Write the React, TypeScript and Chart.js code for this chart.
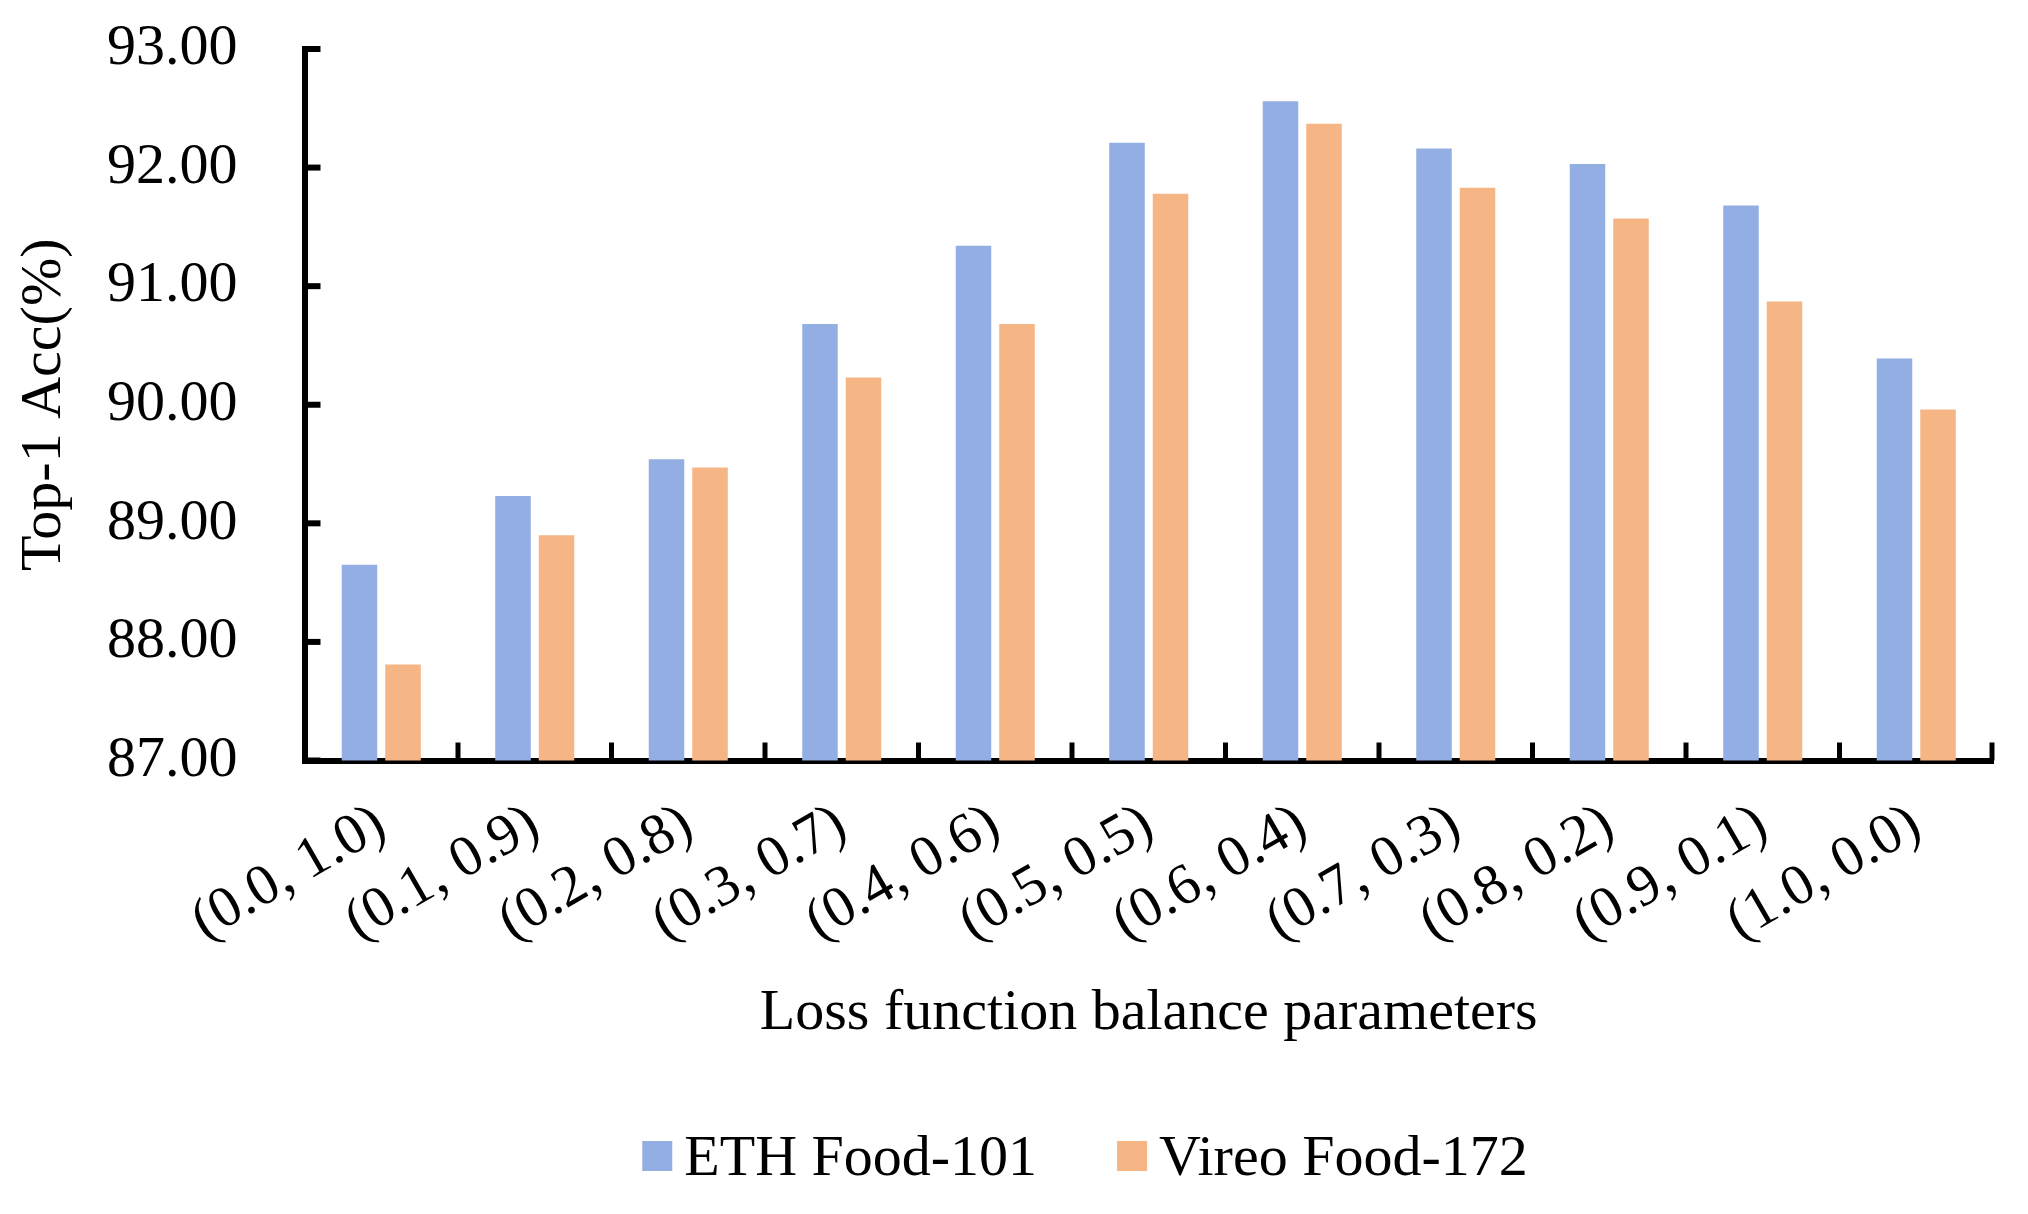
import React, { useEffect, useRef } from 'react';
import { Chart, registerables } from 'chart.js';

Chart.register(...registerables);

const categories = [
  '(0.0, 1.0)', '(0.1, 0.9)', '(0.2, 0.8)', '(0.3, 0.7)', '(0.4, 0.6)', '(0.5, 0.5)',
  '(0.6, 0.4)', '(0.7, 0.3)', '(0.8, 0.2)', '(0.9, 0.1)', '(1.0, 0.0)',
];
const ethFood101 = [88.65, 89.23, 89.54, 90.68, 91.34, 92.21, 92.56, 92.16, 92.03, 91.68, 90.39];
const vireoFood172 = [87.81, 88.9, 89.47, 90.23, 90.68, 91.78, 92.37, 91.83, 91.57, 90.87, 89.96];
const seriesNames = ['ETH Food-101', 'Vireo Food-172'];
const seriesColors = ['rgb(147,174,226)', 'rgb(245,181,132)'];
const yMin = 87;
const yMax = 93;
const yStep = 1;
const xTitle = 'Loss function balance parameters';
const yTitle = 'Top-1 Acc(%)';

const FONT = '"Liberation Serif", "Times New Roman", serif';
const FS = 58;

const axisDecor = {
  id: 'axisDecor',
  afterDraw(chart: any) {
    const { ctx, chartArea, scales } = chart;
    const xs = scales.x;
    const ys = scales.y;
    ctx.save();
    ctx.strokeStyle = '#000';
    ctx.lineCap = 'butt';
    // inward y ticks
    ctx.lineWidth = 6;
    ys.ticks.forEach((t: any) => {
      const py = ys.getPixelForValue(t.value);
      ctx.beginPath();
      ctx.moveTo(chartArea.left, py);
      ctx.lineTo(chartArea.left + 16, py);
      ctx.stroke();
    });
    // inward x ticks at category boundaries
    ctx.lineWidth = 5;
    const n = xs.ticks.length;
    for (let i = 1; i <= n; i++) {
      const px = i < n ? (xs.getPixelForValue(i - 1) + xs.getPixelForValue(i)) / 2 : chartArea.right - 1;
      ctx.beginPath();
      ctx.moveTo(px, chartArea.bottom);
      ctx.lineTo(px, chartArea.bottom - 18);
      ctx.stroke();
    }
    // legend
    ctx.font = `${FS}px ${FONT}`;
    ctx.textBaseline = 'alphabetic';
    ctx.textAlign = 'left';
    const box = 30;
    const gapBoxText = 12;
    const gapItems = 80;
    const widths = seriesNames.map((s) => ctx.measureText(s).width);
    const total = widths.reduce((a, w) => a + box + gapBoxText + w, 0) + gapItems * (seriesNames.length - 1);
    const center = chart.width / 2 + 71;
    let x = center - total / 2;
    const baseline = chart.height - 39;
    seriesNames.forEach((s, i) => {
      ctx.fillStyle = seriesColors[i];
      ctx.fillRect(x, baseline - 34, box, box);
      x += box + gapBoxText;
      ctx.fillStyle = '#000';
      ctx.fillText(s, x, baseline);
      x += widths[i] + gapItems;
    });
    ctx.restore();
  },
};

export default function App() {
  const ref = useRef<HTMLCanvasElement | null>(null);
  useEffect(() => {
    if (!ref.current) return;
    const chart = new Chart(ref.current, {
      type: 'bar',
      data: {
        labels: categories,
        datasets: [
          { label: seriesNames[0], data: ethFood101, backgroundColor: seriesColors[0], borderWidth: 0 },
          { label: seriesNames[1], data: vireoFood172, backgroundColor: seriesColors[1], borderWidth: 0 },
        ],
      },
      options: {
        animation: false,
        responsive: true,
        maintainAspectRatio: false,
        devicePixelRatio: 1,
        datasets: { bar: { categoryPercentage: 0.567, barPercentage: 0.816 } },
        layout: { padding: { left: 0, right: 35, top: 49, bottom: 109 } },
        plugins: { legend: { display: false }, tooltip: { enabled: false } },
        scales: {
          x: {
            z: 1,
            grid: { display: false, drawTicks: true, tickLength: 30 },
            border: { display: true, color: '#000', width: 6 },
            ticks: {
              color: '#000',
              font: { family: FONT, size: FS },
              minRotation: 30,
              maxRotation: 30,
              autoSkip: false,
              padding: 0,
            },
            title: {
              display: true,
              text: xTitle,
              color: '#000',
              font: { family: FONT, size: FS },
              padding: { top: 0, bottom: 56 },
            },
            afterFit: (s: any) => { s.height = 344.5; },
          },
          y: {
            z: 1,
            min: yMin,
            max: yMax,
            grid: { display: false, drawTicks: true, tickLength: 67 },
            border: { display: true, color: '#000', width: 6 },
            ticks: {
              stepSize: yStep,
              color: '#000',
              font: { family: FONT, size: FS },
              padding: 0,
              callback: (v: any) => Number(v).toFixed(2),
            },
            title: {
              display: true,
              text: yTitle,
              color: '#000',
              font: { family: FONT, size: FS },
              padding: { top: 10, bottom: 0 },
            },
            afterFit: (s: any) => { s.width = 304.5; },
          },
        },
      },
      plugins: [axisDecor],
    });
    return () => chart.destroy();
  }, []);
  return (
    <div style={{ position: 'fixed', left: 0, top: 0, width: '2028px', height: '1214px', background: '#fff' }}>
      <canvas ref={ref} />
    </div>
  );
}
